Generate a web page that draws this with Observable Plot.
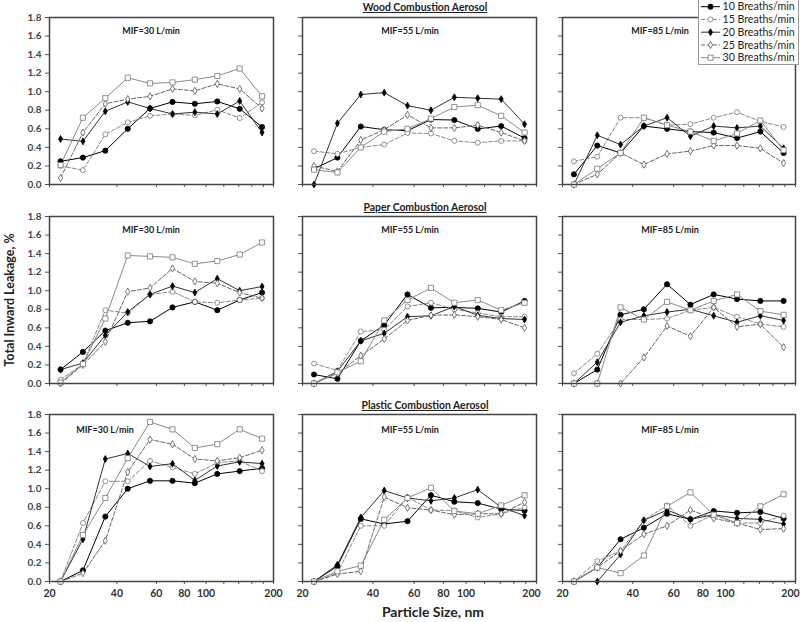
<!DOCTYPE html>
<html><head><meta charset="utf-8">
<script src="https://cdn.jsdelivr.net/npm/d3@7"></script>
<script src="https://cdn.jsdelivr.net/npm/@observablehq/plot@0.6"></script>
<style>
body{margin:0;background:#fff;font-family:Lato,"Open Sans",sans-serif;}
#wrap{position:relative;width:800px;height:622px;overflow:hidden;background:#fff;}
.abs{position:absolute;white-space:nowrap;transform:translate(-50%,-50%);}
.sec{font-weight:bold;font-size:10.4px;text-decoration:underline;color:#222;}
.mif{font-weight:bold;font-size:9px;color:#222;}
.axl{font-weight:bold;color:#222;}
svg.panel{position:absolute;overflow:visible;background:transparent;}
</style></head><body><div id="wrap"></div>
<script>
// ---- data ----
const sizes = [22.4, 28.2, 35.5, 44.7, 56.2, 70.8, 89.1, 112.2, 141.3, 177.8];
const seriesNames = ["10 Breaths/min", "15 Breaths/min", "20 Breaths/min", "25 Breaths/min", "30 Breaths/min"];
const aerosolTitles = ["Wood Combustion Aerosol", "Paper Combustion Aerosol", "Plastic Combustion Aerosol"];
const mifLabels = ["MIF=30 L/min", "MIF=55 L/min", "MIF=85 L/min"];
const xTicks = [20, 40, 60, 80, 100, 120, 140, 160, 180, 200];
const xTickLabels = [20, 40, 60, 80, 100, 200];
const yTicks = [0, 0.2, 0.4, 0.6, 0.8, 1.0, 1.2, 1.4, 1.6, 1.8];

const wood30 = [
  [0.25, 0.29, 0.365, 0.60, 0.82, 0.89, 0.87, 0.895, 0.816, 0.62],
  [0.20, 0.155, 0.54, 0.67, 0.74, 0.76, 0.745, 0.805, 0.716, 0.885],
  [0.49, 0.465, 0.79, 0.89, 0.82, 0.76, 0.78, 0.76, 0.90, 0.56],
  [0.07, 0.56, 0.87, 0.92, 0.95, 1.03, 1.01, 1.085, 1.03, 0.82],
  [0.21, 0.72, 0.93, 1.15, 1.09, 1.10, 1.13, 1.17, 1.25, 0.95]
];
const wood55 = [
  [0.17, 0.29, 0.625, 0.59, 0.58, 0.70, 0.695, 0.60, 0.63, 0.50],
  [0.36, 0.33, 0.40, 0.43, 0.555, 0.55, 0.47, 0.45, 0.47, 0.47],
  [0.00, 0.66, 0.97, 0.99, 0.85, 0.80, 0.94, 0.93, 0.92, 0.65],
  [0.20, 0.14, 0.48, 0.59, 0.75, 0.61, 0.61, 0.64, 0.56, 0.47],
  [0.16, 0.13, 0.40, 0.57, 0.60, 0.71, 0.835, 0.855, 0.74, 0.56]
];
const wood85 = [
  [0.11, 0.42, 0.34, 0.63, 0.60, 0.57, 0.56, 0.50, 0.57, 0.34],
  [0.25, 0.30, 0.72, 0.72, 0.64, 0.65, 0.72, 0.78, 0.68, 0.62],
  [0.00, 0.53, 0.43, 0.63, 0.72, 0.52, 0.63, 0.61, 0.63, 0.39],
  [0.00, 0.11, 0.34, 0.215, 0.33, 0.36, 0.42, 0.42, 0.39, 0.23],
  [0.00, 0.17, 0.34, 0.72, 0.64, 0.57, 0.47, 0.55, 0.69, 0.37]
];
const paper30 = [
  [0.15, 0.34, 0.57, 0.655, 0.67, 0.82, 0.88, 0.79, 0.90, 0.98],
  [0.04, 0.21, 0.79, 0.76, 0.96, 0.99, 0.88, 0.87, 0.90, 0.92],
  [0.15, 0.22, 0.52, 0.77, 0.96, 1.05, 0.98, 1.13, 1.00, 1.045],
  [0.00, 0.20, 0.45, 0.99, 1.03, 1.24, 1.10, 1.08, 0.98, 0.92],
  [0.01, 0.21, 0.70, 1.38, 1.37, 1.36, 1.29, 1.32, 1.39, 1.52]
];
const paper55 = [
  [0.097, 0.05, 0.46, 0.63, 0.96, 0.816, 0.82, 0.81, 0.77, 0.89],
  [0.215, 0.14, 0.56, 0.58, 0.83, 0.87, 0.80, 0.76, 0.72, 0.72],
  [0.00, 0.13, 0.46, 0.54, 0.72, 0.73, 0.83, 0.735, 0.70, 0.69],
  [0.00, 0.11, 0.30, 0.48, 0.68, 0.735, 0.74, 0.72, 0.69, 0.60],
  [0.00, 0.12, 0.24, 0.68, 0.90, 1.03, 0.87, 0.90, 0.79, 0.87]
];
const paper85 = [
  [0.00, 0.15, 0.74, 0.80, 1.07, 0.85, 0.96, 0.91, 0.89, 0.89],
  [0.11, 0.32, 0.69, 0.69, 0.70, 0.79, 0.82, 0.72, 0.64, 0.61],
  [0.00, 0.23, 0.66, 0.73, 0.77, 0.80, 0.73, 0.66, 0.73, 0.68],
  [0.00, 0.00, 0.00, 0.28, 0.62, 0.51, 0.82, 0.61, 0.64, 0.39],
  [0.00, 0.00, 0.82, 0.69, 0.88, 0.79, 0.89, 0.96, 0.78, 0.74]
];
const plastic30 = [
  [0.00, 0.12, 0.70, 1.00, 1.085, 1.085, 1.06, 1.16, 1.19, 1.22],
  [0.00, 0.63, 1.08, 1.08, 1.30, 1.23, 1.16, 1.28, 1.30, 1.19],
  [0.00, 0.455, 1.32, 1.38, 1.24, 1.27, 1.09, 1.245, 1.29, 1.27],
  [0.00, 0.09, 0.44, 1.18, 1.53, 1.48, 1.32, 1.30, 1.335, 1.415],
  [0.00, 0.50, 0.90, 1.33, 1.72, 1.64, 1.44, 1.48, 1.64, 1.54]
];
const plastic55 = [
  [0.00, 0.165, 0.675, 0.62, 0.65, 0.93, 0.86, 0.845, 0.78, 0.765],
  [0.00, 0.09, 0.60, 0.60, 0.91, 0.77, 0.765, 0.69, 0.73, 0.80],
  [0.00, 0.18, 0.69, 0.98, 0.90, 0.87, 0.90, 0.99, 0.80, 0.71],
  [0.00, 0.08, 0.11, 0.91, 0.795, 0.77, 0.72, 0.73, 0.73, 0.855],
  [0.00, 0.11, 0.17, 0.665, 0.90, 1.01, 0.76, 0.73, 0.82, 0.93]
];
const plastic85 = [
  [0.00, 0.15, 0.455, 0.58, 0.73, 0.67, 0.76, 0.74, 0.75, 0.68],
  [0.00, 0.22, 0.33, 0.66, 0.82, 0.60, 0.72, 0.63, 0.63, 0.71],
  [0.00, 0.00, 0.29, 0.66, 0.77, 0.67, 0.72, 0.68, 0.67, 0.62],
  [0.00, 0.15, 0.33, 0.51, 0.60, 0.77, 0.68, 0.63, 0.56, 0.57],
  [0.00, 0.15, 0.09, 0.28, 0.81, 0.96, 0.72, 0.63, 0.81, 0.94]
];
const panelsData = [[wood30, wood55, wood85], [paper30, paper55, paper85], [plastic30, plastic55, plastic85]];

// ---- styles & layout ----
const styles = [
  {symbol: "circle", r: 2.6, fill: "#000", stroke: "#000", line: "#000", dash: null},
  {symbol: "circle", r: 2.5, fill: "#fff", stroke: "#777", line: "#8a8a8a", dash: "4,2"},
  {symbol: "diamond", r: 2.1, fill: "#000", stroke: "#000", line: "#333", dash: null},
  {symbol: "diamond", r: 2.2, fill: "#fff", stroke: "#555", line: "#666", dash: "4,2"},
  {symbol: "square", r: 2.9, fill: "#fff", stroke: "#777", line: "#8a8a8a", dash: null}
];
const colX = [[49, 273], [302, 536], [562, 795]];
const rowY = [[17, 184], [216, 383], [414, 581]];
const mifPos = [
  [[151, 30], [410, 30], [660, 30]],
  [[151, 229], [410, 229], [670, 229]],
  [[105, 429], [410, 429], [670, 429]]
];
const secY = [7, 206.5, 405];

const wrap = document.getElementById("wrap");

function addText(cls, txt, x, y, extra) {
  const d = document.createElement("div");
  d.className = "abs " + cls;
  d.textContent = txt;
  d.style.left = x + "px";
  d.style.top = y + "px";
  if (extra) Object.assign(d.style, extra);
  wrap.appendChild(d);
}

for (let r = 0; r < 3; r++) {
  for (let c = 0; c < 3; c++) {
    const vals = panelsData[r][c];
    const data = [];
    vals.forEach((arr, si) => arr.forEach((v, i) => data.push({si, s: seriesNames[si], x: sizes[i], y: v})));
    const ml = c === 0 ? 45 : 10, mr = 6, mt = 4, mb = r === 2 ? 26 : 8;
    const W = colX[c][1] - colX[c][0], H = rowY[r][1] - rowY[r][0];
    const marks = [];
    marks.push(Plot.axisY({
      ticks: yTicks, tickSize: 4, tickPadding: 4, label: null, stroke: "#555",
      tickFormat: c === 0 ? d3.format(".1f") : () => "",
      fontSize: 10, fontWeight: "bold", fill: "#444"
    }));
    const lastShift = c === 0 ? 0 : -5;
    marks.push(Plot.axisX({
      ticks: xTicks, tickSize: 3, tickPadding: 5, label: null, stroke: "#555",
      tickFormat: r === 2 ? (d => (xTickLabels.includes(d) && d !== 200) ? String(d) : "") : () => "",
      fontSize: 10.5, fontWeight: "bold", fill: "#333"
    }));
    if (r === 2) {
      marks.push(Plot.axisX({
        ticks: [200], tickSize: 0, tickPadding: 8, label: null, dx: lastShift,
        tickFormat: d => String(d), fontSize: 10.5, fontWeight: "bold", fill: "#333"
      }));
    }
    for (let si = 0; si < 5; si++) {
      const st = styles[si];
      marks.push(Plot.line(data.filter(d => d.si === si), {
        x: "x", y: "y", stroke: st.line, strokeWidth: 1, strokeDasharray: st.dash || undefined
      }));
    }
    for (let si = 0; si < 5; si++) {
      const st = styles[si];
      marks.push(Plot.dot(data.filter(d => d.si === si), {
        x: "x", y: "y", symbol: () => st.symbol, r: st.r, fill: st.fill, stroke: st.stroke, strokeWidth: 0.8
      }));
    }
    marks.push(Plot.frame({stroke: "#444", strokeWidth: 1.5}));
    const svg = Plot.plot({
      width: W + ml + mr, height: H + mt + mb,
      marginLeft: ml, marginRight: mr, marginTop: mt, marginBottom: mb,
      x: {type: "log", domain: [20, 200]},
      y: {domain: [0, 1.8]},
      symbol: {type: "identity"},
      style: {background: "transparent", overflow: "visible", fontFamily: "Lato, 'Open Sans', sans-serif"},
      marks
    });
    svg.classList.add("panel");
    svg.style.position = "absolute";
    svg.style.left = (colX[c][0] - ml) + "px";
    svg.style.top = (rowY[r][0] - mt) + "px";
    svg.style.maxWidth = "none";
    wrap.appendChild(svg);
    addText("mif", mifLabels[c], mifPos[r][c][0], mifPos[r][c][1]);
  }
  addText("sec", aerosolTitles[r], 425, secY[r]);
}

addText("axl", "Particle Size, nm", 433, 611, {fontSize: "14px"});
addText("axl", "Total Inward Leakage, %", 9, 300, {fontSize: "12.5px", transform: "translate(-50%,-50%) rotate(-90deg)"});

// legend
const leg = d3.select(wrap).append("svg")
  .attr("width", 101).attr("height", 66)
  .style("position", "absolute").style("left", "698px").style("top", "-1px");
leg.append("rect").attr("x", 0.5).attr("y", 0.5).attr("width", 100).attr("height", 65)
  .attr("fill", "#fff").attr("stroke", "#999");
seriesNames.forEach((name, i) => {
  const st = styles[i];
  const y = 7.7 + i * 12.75;
  leg.append("line").attr("x1", 3).attr("x2", 22).attr("y1", y).attr("y2", y)
    .attr("stroke", st.line).attr("stroke-dasharray", st.dash);
  const sym = {circle: d3.symbolCircle, diamond: d3.symbolDiamond, square: d3.symbolSquare}[st.symbol];
  leg.append("path").attr("d", d3.symbol(sym, Math.PI * st.r * st.r)())
    .attr("transform", `translate(12.5,${y})`).attr("fill", st.fill).attr("stroke", st.stroke).attr("stroke-width", 0.8);
  leg.append("text").attr("x", 24.5).attr("y", y).attr("dy", "0.35em")
    .attr("font-size", 10.6).attr("font-family", "Lato, 'Open Sans', sans-serif").attr("fill", "#222").text(name);
});
</script></body></html>
